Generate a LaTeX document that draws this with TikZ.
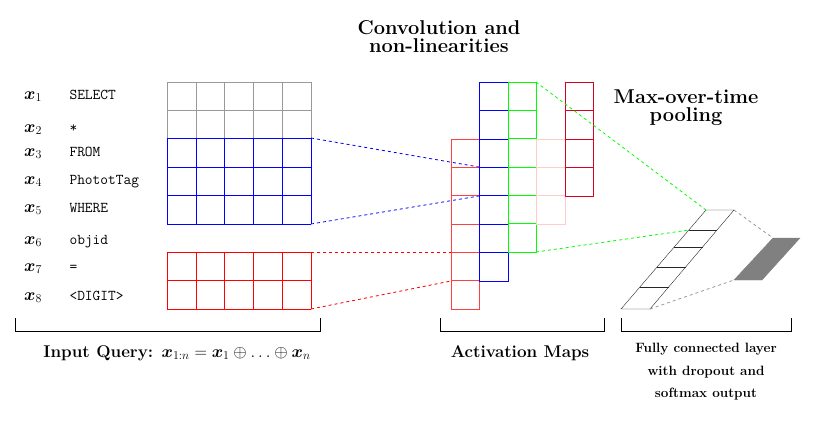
\documentclass[tikz,border=0pt]{standalone}
\usepackage{amsmath,bm}
\begin{document}
\begin{tikzpicture}[x=1pt,y=-1pt,
  lbl/.style={anchor=base west,font=\fontsize{15}{17}\selectfont\ttfamily},
  xl/.style={anchor=base,font=\fontsize{17}{18}\selectfont},
  ttl/.style={font=\fontsize{20}{22}\selectfont\bfseries,align=center},
  captxt/.style={font=\fontsize{17}{19}\selectfont\bfseries},
  dl/.style={dashed,line width=0.8pt}]
\useasboundingbox (0,0) rectangle (831,424);
% input grid
\def\cw{28.8}
\foreach \i in {0,...,5}{\draw[gray!80] (167+\i*\cw,82) -- (167+\i*\cw,138);}
\foreach \j in {82,110}{\draw[gray!80] (167,\j) -- (311,\j);}
\foreach \i in {0,...,5}{\draw[blue] (167+\i*\cw,138) -- (167+\i*\cw,224);}
\foreach \j in {138,166.7,195.3,224}{\draw[blue] (167,\j) -- (311,\j);}
\foreach \i in {0,...,5}{\draw[red] (167+\i*\cw,252) -- (167+\i*\cw,309);}
\foreach \j in {252,280.5,309}{\draw[red] (167,\j) -- (311,\j);}
\coordinate (bt) at (311,138); \coordinate (bb) at (311,224);
\coordinate (rt) at (311,252); \coordinate (rb) at (311,309);
% row labels
\foreach \y/\n/\w in {94/1/SELECT,127/2/*,151/3/FROM,179/4/PhototTag,207/5/WHERE,239/6/objid,266/7/=,295/8/<DIGIT>}{
  \node[xl] (x\n) at (33,\y+5) {$\bm{x}_{\n}$};
  \node[lbl] (w\n) at (66,\y+5) {\w};}
% activation maps
\foreach \k in {0,...,5}{\draw[red!75] (451,139+\k*28.3) rectangle (479,167.3+\k*28.3);}
\foreach \k in {0,...,6}{\draw[blue] (479,82+\k*28.4) rectangle (508,110.4+\k*28.4);}
\foreach \k in {0,...,5}{\draw[green] (508,82+\k*28.3) rectangle (536,110.3+\k*28.3);}
\foreach \k in {0,...,2}{\draw[red!20] (536,139+\k*28.3) rectangle (565,167.3+\k*28.3);}
\foreach \k in {0,...,3}{\draw[purple!60!red] (565,82+\k*28.5) rectangle (593,110.5+\k*28.5);}
\coordinate (ab1) at (479,167); \coordinate (ab2) at (479,196);
\coordinate (ar1) at (451,252); \coordinate (ar2) at (451,281);
\coordinate (ag1) at (536,82); \coordinate (ag2) at (536,252);
\draw[blue,dl] (bt) -- (ab1); \draw[blue,dl] (bb) -- (ab2);
\draw[red,dl] (rt) -- (ar1); \draw[red,dl] (rb) -- (ar2);
% pooled vector
\coordinate (p1) at (706,210); \coordinate (p2) at (734,210);
\coordinate (p3) at (650,309); \coordinate (p4) at (621,309);
\draw[green,dl] (ag1) -- (p1); \draw[green,dl] (ag2) -- (689,230);
\draw[black!85] (p1) -- (p2) -- (p3) -- (p4) -- cycle;
\foreach \y in {230,247,267,287}{\draw[black!85] ({706-(\y-210)*85/99},\y) -- ({734-(\y-210)*84/99},\y);}
\coordinate (o1) at (773,238); \coordinate (o2) at (800,238);
\coordinate (o3) at (762,280); \coordinate (o4) at (734,280);
\fill[gray,draw=gray] (o1) -- (o2) -- (o3) -- (o4) -- cycle;
\draw[gray!80,dl] (p2) -- (o1); \draw[gray!80,dl] (p3) -- (o4);
% brackets
\draw[thick] (15,318) -- (15,331) -- (320,331) -- (320,318);
\draw[thick] (440,318) -- (440,331) -- (604,331) -- (604,318);
\draw[thick] (621,318) -- (621,331) -- (791,331) -- (791,318);
% texts
\node[ttl] (t1) at (439,37) {Convolution and\\[-4pt]non-linearities};
\node[ttl] (t2) at (686,108) {Max-over-time\\[-4pt]pooling};
\node[captxt] (c1) at (177,353) {Input Query: $\bm{x}_{1:n}=\bm{x}_1\oplus\ldots\oplus\bm{x}_n$};
\node[captxt] (c2) at (520,353) {Activation Maps};
\node[font=\fontsize{13.5}{22.5}\selectfont\bfseries,align=center] (c3) at (706,372) {Fully connected layer\\with dropout and\\softmax output};
\end{tikzpicture}
\end{document}
